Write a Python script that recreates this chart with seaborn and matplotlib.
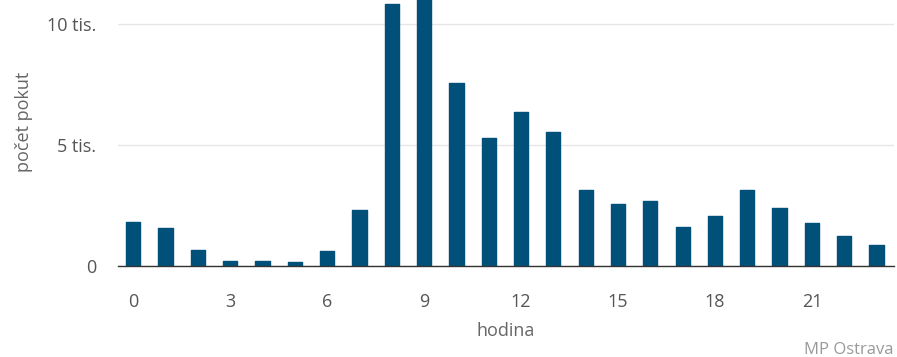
import matplotlib
matplotlib.use("Agg")
import matplotlib.pyplot as plt
import seaborn as sns
import pandas as pd

# Fines issued by hour of day
hours = list(range(24))
fines = [1830, 1580, 680, 240, 240, 180, 620, 2320, 10850, 11200,
         7580, 5310, 6370, 5540, 3150, 2580, 2710, 1630, 2090, 3150,
         2390, 1770, 1260, 870]
y_ticks = [0, 5000, 10000]
y_tick_labels = ["0", "5 tis.", "10 tis."]
x_ticks = [0, 3, 6, 9, 12, 15, 18, 21]

sns.set_theme(style="white")
plt.rcParams["font.family"] = ["Open Sans", "DejaVu Sans"]

bar_color = "#00507a"
df = pd.DataFrame({"hodina": hours, "pokuty": fines})

fig = plt.figure(figsize=(8.97, 3.57), dpi=100)
ax = fig.add_axes([0.132, 0.254, 0.865, 0.746])

sns.barplot(data=df, x="hodina", y="pokuty", color=bar_color, width=0.44,
            saturation=1, ax=ax, native_scale=True)
for p in ax.patches:
    p.set_edgecolor(bar_color)
    p.set_linewidth(1.0)
    p.set_joinstyle("round")

ax.set_xlim(-0.46, 23.55)
ax.set_ylim(0, 11000)
ax.set_yticks(y_ticks)
ax.set_yticklabels(y_tick_labels)
ax.set_xticks(x_ticks)
ax.set_xticklabels([str(t) for t in x_ticks])

ax.yaxis.grid(True, color="#e6e6e6", linewidth=1)
ax.set_axisbelow(True)
for side in ["top", "right", "left"]:
    ax.spines[side].set_visible(False)
ax.spines["bottom"].set_color("#333333")
ax.spines["bottom"].set_linewidth(1)
ax.spines["bottom"].set_zorder(5)

ax.tick_params(axis="x", length=0, pad=19, labelsize=13, labelcolor="#555555")
ax.tick_params(axis="y", length=0, pad=16, labelsize=13, labelcolor="#555555")
ax.set_xlabel("")
ax.set_ylabel("")

fig.text(0.564, 0.073, "hodina", ha="center", va="center",
         fontsize=13, color="#666666")
fig.text(0.027, 0.66, "počet pokut", ha="center", va="center",
         rotation=90, fontsize=13, color="#666666")
fig.text(0.996, 0.02, "MP Ostrava", ha="right", va="center",
         fontsize=12, color="#999999")

fig.savefig("out.png", dpi=100)
